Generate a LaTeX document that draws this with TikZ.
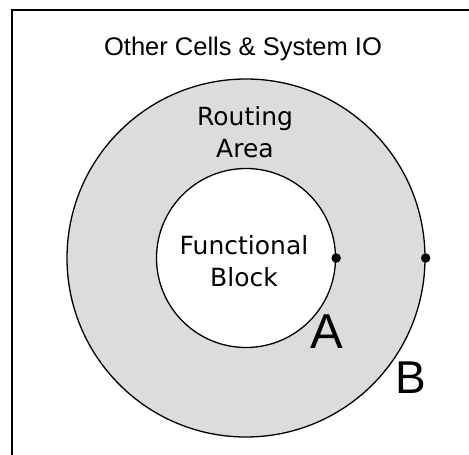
\documentclass[tikz,border=0pt]{standalone}
\usepackage{fontspec}
\usepackage{tikz}
\usetikzlibrary{positioning}
\newfontfamily\sansA{Liberation Sans}
\newfontfamily\sansB{DejaVu Sans}
\definecolor{AreaGray}{HTML}{DCDCDC}
\begin{document}
\begin{tikzpicture}[x=1pt,y=-1pt,
ring/.style={draw,circle,line width=1.3pt,inner sep=0pt},
pin/.style={circle,fill=black,inner sep=0pt,minimum size=9.5pt},
txt/.style={inner sep=0pt,align=center,font=\sansB\fontsize{25}{31.5}\selectfont},
big/.style={inner sep=0pt,anchor=base,font=\sansA\fontsize{49}{49}\selectfont}]
\useasboundingbox (0,0) rectangle (469,455);
\clip (0,0) rectangle (469,455);
\draw[line width=1.8pt] (12,10) rectangle (490,480);
\node[inner sep=0pt,anchor=base,font=\sansA\fontsize{25.5}{25.5}\selectfont] (io) at (243,56) {Other Cells \& System IO};
\node[ring,fill=AreaGray,minimum size=358pt] (routing) at (246,258) {};
\node[ring,fill=white,minimum size=179pt] (block) at (246,258) {};
\node[txt,anchor=base] (rlbl) at (245,157) {Routing\\Area};
\node[txt,anchor=base] (blbl) at (244,286) {Functional\\Block};
\node[pin] (pa) at (block.east) {};
\node[pin] (pb) at (routing.east) {};
\node[big] (A) at (327,348) {A};
\node[big,font=\sansA\fontsize{46}{46}\selectfont] (B) at (411,393) {B};
\end{tikzpicture}
\end{document}
